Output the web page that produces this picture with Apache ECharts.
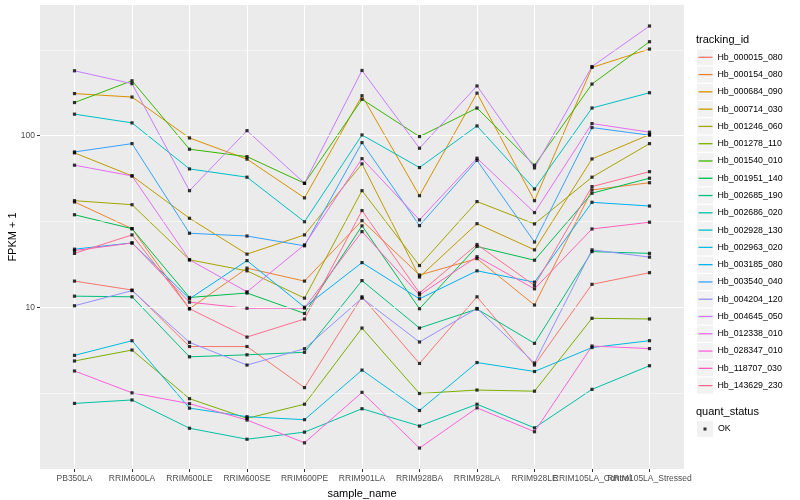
<!DOCTYPE html>
<html>
<head>
<meta charset="utf-8">
<script src="https://cdn.jsdelivr.net/npm/echarts@6/dist/echarts.min.js"></script>
<style>
html,body{margin:0;padding:0;background:#fff;}
#chart{width:800px;height:500px;}
</style>
</head>
<body>
<div id="chart"></div>
<script>
// ---------- data ----------
const categories = ['PB350LA','RRIM600LA','RRIM600LE','RRIM600SE','RRIM600PE','RRIM901LA','RRIM928BA','RRIM928LA','RRIM928LE','RRIM105LA_Control','RRIM105LA_Stressed'];

const trackingIds = ['Hb_000015_080','Hb_000154_080','Hb_000684_090','Hb_000714_030','Hb_001246_060','Hb_001278_110','Hb_001540_010','Hb_001951_140','Hb_002685_190','Hb_002686_020','Hb_002928_130','Hb_002963_020','Hb_003185_080','Hb_003540_040','Hb_004204_120','Hb_004645_050','Hb_012338_010','Hb_028347_010','Hb_118707_030','Hb_143629_230'];

const Hb_000015_080 = [14.2, 12.6, 5.9, 5.9, 3.4, 11.5, 4.7, 11.5, 4.6, 13.6, 15.9];
const Hb_000154_080 = [41.1, 28.7, 9.8, 16.9, 14.2, 32.0, 15.4, 19.2, 10.3, 48.3, 53.2];
const Hb_000684_090 = [176, 168, 97, 73, 43.4, 171, 44.7, 177, 41.8, 250, 320];
const Hb_000714_030 = [79.4, 58.3, 33.0, 20.4, 26.4, 68.5, 15.0, 30.7, 21.6, 73.2, 101.5];
const Hb_001246_060 = [41.8, 39.6, 18.9, 16.3, 11.3, 47.8, 17.5, 41.3, 30.6, 57.3, 89.9];
const Hb_001278_110 = [4.86, 5.63, 2.93, 2.25, 2.72, 7.56, 3.14, 3.29, 3.24, 8.62, 8.54];
const Hb_001540_010 = [156, 209, 83.4, 75.5, 52.8, 163, 98.8, 145, 67.3, 200, 353];
const Hb_001951_140 = [34.6, 28.7, 11.4, 12.1, 9.2, 29.8, 9.8, 22.6, 18.8, 46.2, 56.5];
const Hb_002685_190 = [11.6, 11.5, 5.14, 5.28, 5.46, 14.3, 7.56, 9.76, 6.16, 21.1, 20.6];
const Hb_002686_020 = [2.75, 2.88, 1.97, 1.70, 1.87, 2.56, 2.03, 2.72, 1.98, 3.32, 4.56];
const Hb_002928_130 = [133.5, 118.8, 64.0, 57.3, 31.5, 101, 65.2, 114, 48.9, 145, 178];
const Hb_002963_020 = [5.24, 6.38, 2.58, 2.30, 2.21, 4.30, 2.50, 4.76, 4.22, 5.82, 6.38];
const Hb_003185_080 = [21.8, 23.7, 11.2, 18.7, 10.0, 18.2, 11.2, 16.3, 14.0, 40.9, 38.9];
const Hb_003540_040 = [80.4, 89.9, 27.0, 26.0, 22.8, 91.1, 29.9, 71.8, 24.0, 111.5, 100.7];
const Hb_004204_120 = [10.2, 12.5, 6.24, 4.60, 5.73, 11.3, 6.27, 9.83, 4.73, 21.6, 19.6];
const Hb_004645_050 = [239, 201, 47.8, 107, 52.8, 240, 84.5, 195, 64.9, 253, 436];
const Hb_012338_010 = [67.3, 58.3, 18.9, 12.3, 23.1, 73.5, 32.3, 73.9, 35.6, 117.7, 104.8];
const Hb_028347_010 = [4.25, 3.17, 2.74, 2.20, 1.62, 3.19, 1.51, 2.59, 1.88, 5.94, 5.74];
const Hb_118707_030 = [21.4, 23.7, 10.7, 9.86, 9.88, 27.6, 11.8, 19.7, 12.8, 28.6, 31.3];
const Hb_143629_230 = [20.6, 26.4, 9.8, 6.7, 8.54, 36.6, 12.1, 23.2, 13.4, 50.5, 61.7];

const seriesValues = [Hb_000015_080, Hb_000154_080, Hb_000684_090, Hb_000714_030, Hb_001246_060,
  Hb_001278_110, Hb_001540_010, Hb_001951_140, Hb_002685_190, Hb_002686_020, Hb_002928_130,
  Hb_002963_020, Hb_003185_080, Hb_003540_040, Hb_004204_120, Hb_004645_050, Hb_012338_010,
  Hb_028347_010, Hb_118707_030, Hb_143629_230];

const quantStatus = ['OK'];
const yTickLabels = [10, 100];
const yMinorBreaks = [3.162, 31.62, 316.2];

// ---------- style ----------
const palette = ['#F8766D','#EA8331','#D89000','#C09B00','#A3A500','#7CAE00','#39B600','#00BB4E','#00BF7D','#00C1A3',
  '#00BFC4','#00BAE0','#00B0F6','#35A2FF','#9590FF','#C77CFF','#E76BF3','#FA62DB','#FF62BC','#FF6C91'];
const FONT = '"Liberation Sans", Arial, Helvetica, sans-serif';
const PANEL = {left: 40, right: 116, top: 5, bottom: 31};
const rowH = 17.28;
const legendFirstCenter = 57.3;

const chart = echarts.init(document.getElementById('chart'));

const idx = categories.map((c, i) => i);
const evenIdx = idx.filter(i => i % 2 === 0);
const oddIdx = idx.filter(i => i % 2 === 1);

const lineSeries = trackingIds.map((id, k) => ({
  name: id,
  type: 'line',
  xAxisIndex: 0,
  data: seriesValues[k].map((v, i) => [i, v]),
  showSymbol: false,
  symbol: 'none',
  color: palette[k],
  lineStyle: {width: 1, color: palette[k]},
  z: 3,
  silent: true,
  animation: false
}));

const pointData = [];
seriesValues.forEach(arr => arr.forEach((v, i) => pointData.push([i, v])));

const gridSeries = {
  name: '__grid',
  type: 'line',
  xAxisIndex: 0,
  data: [],
  z: 1,
  silent: true,
  animation: false,
  markLine: {
    silent: true,
    symbol: ['none', 'none'],
    symbolSize: 0,
    animation: false,
    label: {show: false},
    emphasis: {disabled: true},
    lineStyle: {color: '#FFFFFF', type: 'solid', width: 1.07},
    data: [
      ...yMinorBreaks.map(v => ({yAxis: v, lineStyle: {color: '#FFFFFF', width: 0.53, type: 'solid'}})),
      ...yTickLabels.map(v => ({yAxis: v, lineStyle: {color: '#FFFFFF', width: 1.07, type: 'solid'}})),
      ...idx.map(i => ({xAxis: i, lineStyle: {color: '#FFFFFF', width: 1.07, type: 'solid'}}))
    ]
  }
};

const graphics = trackingIds.map((id, k) => ({
  type: 'rect',
  left: 697,
  top: legendFirstCenter + k * rowH - 8,
  shape: {width: 16, height: 16},
  style: {fill: '#F2F2F2'},
  z: 0
}));
graphics.push({
  type: 'rect', left: 697, top: 429 - 8, shape: {width: 16, height: 16}, style: {fill: '#F2F2F2'}, z: 0
});

function isDecade(v) {
  const l = Math.log10(v);
  return Math.abs(l - Math.round(l)) < 1e-6;
}

const labelStyle = {fontFamily: FONT, fontSize: 8.5, color: '#4D4D4D', margin: 5, hideOverlap: false,
  formatter: v => categories[Math.round(v)] ?? ''};

function xAxisFor(values, main) {
  return {
    type: 'value',
    gridIndex: 0,
    position: 'bottom',
    min: -0.6, max: 10.6,
    name: main ? 'sample_name' : '',
    nameLocation: 'middle', nameGap: 19,
    nameMoveOverlap: false,
    nameTextStyle: {fontFamily: FONT, fontSize: 11, color: '#000'},
    axisLine: {show: false, onZero: false},
    axisTick: main ? {show: true, length: 3, lineStyle: {color: '#333333', width: 1}, customValues: idx} : {show: false},
    axisLabel: Object.assign({show: true, customValues: values}, labelStyle),
    splitLine: {show: false}
  };
}

const option = {
  animation: false,
  backgroundColor: '#FFFFFF',
  textStyle: {fontFamily: FONT},
  grid: {
    left: PANEL.left, right: PANEL.right, top: PANEL.top, bottom: PANEL.bottom,
    show: true, backgroundColor: '#EBEBEB', borderWidth: 0, containLabel: false,
    outerBoundsMode: 'none'
  },
  title: [
    {text: 'tracking_id', left: 696, top: 34.5, padding: 0,
     textStyle: {fontFamily: FONT, fontSize: 11, fontWeight: 'normal', color: '#000'}},
    {text: 'quant_status', left: 696, top: 406, padding: 0,
     textStyle: {fontFamily: FONT, fontSize: 11, fontWeight: 'normal', color: '#000'}}
  ],
  xAxis: [xAxisFor(evenIdx, true), xAxisFor(oddIdx, false)],
  yAxis: {
    type: 'log', logBase: 10,
    min: 1.14, max: 578,
    name: 'FPKM + 1', nameLocation: 'middle', nameGap: 22, nameRotate: 90,
    nameMoveOverlap: false,
    nameTextStyle: {fontFamily: FONT, fontSize: 11, color: '#000'},
    axisLine: {show: false, onZero: false},
    axisTick: {show: true, length: 3, lineStyle: {color: '#333333', width: 1}},
    axisLabel: {show: true, fontFamily: FONT, fontSize: 8.5, color: '#4D4D4D', margin: 5,
      showMinLabel: false, showMaxLabel: false,
      formatter: v => (isDecade(v) && yTickLabels.indexOf(Math.round(v)) >= 0) ? String(Math.round(v)) : ''},
    splitLine: {show: false},
    minorSplitLine: {show: false}
  },
  legend: [
    {
      data: trackingIds,
      orient: 'vertical',
      left: 698.5, top: legendFirstCenter - rowH / 2,
      padding: 0, itemGap: 0,
      icon: 'rect', itemWidth: 14, itemHeight: 1.3,
      selectedMode: false,
      textStyle: {fontFamily: FONT, fontSize: 8.8, color: '#000', lineHeight: rowH}
    },
    {
      data: quantStatus,
      orient: 'vertical',
      left: 697, top: 429 - 8,
      padding: 0, itemGap: 0,
      icon: 'path://M0,0M16,16M6.5,6.5L9.5,6.5L9.5,9.5L6.5,9.5Z',
      itemWidth: 16, itemHeight: 16,
      selectedMode: false,
      itemStyle: {color: '#000'},
      textStyle: {fontFamily: FONT, fontSize: 8.8, color: '#000'}
    }
  ],
  graphic: graphics,
  series: [
    gridSeries,
    ...lineSeries,
    {
      name: quantStatus[0],
      type: 'scatter',
      xAxisIndex: 0,
      data: pointData,
      symbol: 'rect',
      symbolSize: 3.2,
      itemStyle: {color: '#000'},
      z: 5,
      silent: true,
      animation: false
    }
  ]
};
chart.setOption(option);
</script>
</body>
</html>
